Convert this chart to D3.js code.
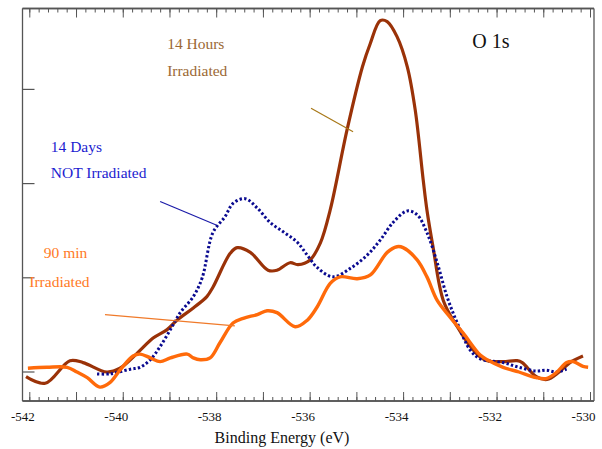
<!DOCTYPE html>
<html>
<head>
<meta charset="utf-8">
<script src="https://cdn.jsdelivr.net/npm/d3@7"></script>
<style>
  body { margin: 0; background: #fff; }
</style>
</head>
<body>
<svg id="chart" width="602" height="449"></svg>
<script>
// O 1s spectra: binding energy (eV) / intensity (arb. units, left ticks = 0..3)
var hoursEnergy = [-542.07,-541.66,-541.13,-540.85,-540.34,-540.06,-539.69,-539.35,-539.05,-538.84,-538.49,-538.20,-538.07,-537.70,-537.55,-537.27,-536.89,-536.70,-536.42,-536.25,-535.99,-535.77,-535.56,-535.20,-534.87,-534.70,-534.49,-534.34,-534.13,-533.91,-533.74,-533.57,-533.49,-533.36,-533.14,-532.84,-532.56,-532.35,-532.20,-531.86,-531.56,-531.45,-531.15,-530.92,-530.66,-530.43,-530.15];
var hoursValue  = [-0.05,-0.12,0.12,0.10,0.00,0.04,0.20,0.36,0.45,0.55,0.68,0.80,0.90,1.26,1.32,1.27,1.08,1.08,1.16,1.14,1.19,1.37,1.72,2.57,3.24,3.49,3.73,3.72,3.56,3.24,2.78,2.04,1.72,1.33,0.76,0.48,0.27,0.16,0.12,0.11,0.12,0.10,-0.05,-0.08,0.00,0.10,0.17];

var daysEnergy = [-540.55,-540.27,-539.84,-539.63,-539.41,-539.20,-538.98,-538.77,-538.49,-538.30,-538.07,-537.81,-537.64,-537.38,-537.12,-536.85,-536.57,-536.27,-536.05,-535.84,-535.50,-535.13,-534.77,-534.49,-534.21,-533.91,-533.70,-533.49,-533.27,-533.06,-532.84,-532.56,-532.35,-531.86,-531.52,-531.15,-530.94,-530.73,-530.50];
var daysValue  = [-0.02,-0.02,0.03,0.05,0.13,0.27,0.45,0.63,0.80,1.00,1.48,1.65,1.79,1.84,1.74,1.59,1.49,1.38,1.24,1.11,1.01,1.10,1.24,1.40,1.59,1.71,1.67,1.48,1.16,0.80,0.52,0.23,0.14,0.10,0.05,0.01,0.02,0.00,0.03];

var minEnergy = [-542.03,-541.62,-541.19,-540.98,-540.76,-540.49,-540.27,-540.06,-539.78,-539.63,-539.41,-539.20,-538.98,-538.62,-538.49,-538.34,-538.13,-537.92,-537.64,-537.42,-537.12,-536.91,-536.70,-536.31,-536.05,-535.84,-535.56,-535.35,-534.98,-534.70,-534.34,-534.13,-534.00,-533.70,-533.49,-533.27,-532.99,-532.71,-532.35,-532.20,-531.86,-531.52,-531.15,-530.94,-530.73,-530.50,-530.36,-530.15,-530.04];
var minValue  = [0.04,0.05,0.05,0.00,-0.06,-0.16,-0.11,0.02,0.17,0.19,0.15,0.11,0.15,0.19,0.15,0.13,0.15,0.31,0.52,0.57,0.61,0.65,0.63,0.48,0.55,0.69,0.94,1.01,0.99,1.03,1.27,1.33,1.32,1.19,1.01,0.76,0.58,0.41,0.18,0.13,0.05,0.00,-0.06,-0.07,-0.01,0.10,0.11,0.06,0.05];

var xTickLabels = [-542, -540, -538, -536, -534, -532, -530];
var yTicks = [0, 1, 2, 3];

var serif = "'Liberation Serif', 'Times New Roman', serif";
var svg = d3.select("#chart");
var frame = { left: 22.5, right: 594, top: 8.5, bottom: 401 };

var x = d3.scaleLinear().domain([-542, -530]).range([29.3, 590]);
var y = d3.scaleLinear().domain([0, 3]).range([372, 89.4]);

function zip(ex, vs) {
  return ex.map(function (e, i) { return { e: e, v: vs[i] }; });
}

// frame
var axisColor = "#555";
svg.append("line").attr("x1", frame.left).attr("x2", frame.left).attr("y1", frame.top).attr("y2", frame.bottom)
  .attr("stroke", axisColor).attr("stroke-width", 1.3);
svg.append("line").attr("x1", frame.right).attr("x2", frame.right).attr("y1", frame.top).attr("y2", frame.bottom)
  .attr("stroke", axisColor).attr("stroke-width", 1.3);

// bottom + top axes (ticks inward)
var minor = d3.range(-542, -529.99, 0.2).map(function (d) { return Math.round(d * 10) / 10; });
var major = d3.range(-542, -529, 1);

var gb = svg.append("g").attr("transform", "translate(0," + frame.bottom + ")");
gb.call(d3.axisBottom(x).tickValues(minor).tickSize(-4).tickFormat(""));
gb.append("g").call(d3.axisBottom(x).tickValues(major).tickSize(-9).tickFormat(""));
var gt = svg.append("g").attr("transform", "translate(0," + frame.top + ")");
gt.call(d3.axisTop(x).tickValues(minor).tickSize(-4).tickFormat(""));
gt.append("g").call(d3.axisTop(x).tickValues(major).tickSize(-9).tickFormat(""));

[gb, gt].forEach(function (g) {
  g.selectAll("path.domain").attr("d", "M" + frame.left + ",0H" + frame.right)
    .attr("stroke", axisColor).attr("stroke-width", 1.3);
  g.selectAll(".tick line").attr("stroke", axisColor).attr("stroke-width", 1);
});

// tick labels
svg.append("g").selectAll("text").data(xTickLabels).join("text")
  .attr("x", function (d) { return x(d) - 6.5; })
  .attr("y", 421)
  .attr("text-anchor", "middle")
  .attr("font-family", serif)
  .attr("font-size", 13)
  .attr("fill", "#111")
  .text(function (d) { return d; });

// left ticks
svg.append("g").selectAll("line").data(yTicks).join("line")
  .attr("x1", frame.left).attr("x2", frame.left + 12)
  .attr("y1", function (d) { return y(d); }).attr("y2", function (d) { return y(d); })
  .attr("stroke", axisColor).attr("stroke-width", 1.2);

svg.append("text").attr("x", 282).attr("y", 443).attr("text-anchor", "middle")
  .attr("font-family", serif)
  .attr("font-size", 16).attr("fill", "#111").text("Binding Energy (eV)");

// curves
var line = d3.line()
  .x(function (d) { return x(d.e); })
  .y(function (d) { return y(d.v); })
  .curve(d3.curveCatmullRom.alpha(0.5));

svg.append("path").datum(zip(hoursEnergy, hoursValue))
  .attr("d", line).attr("fill", "none").attr("stroke", "#9a3208").attr("stroke-width", 3.2)
  .attr("stroke-linejoin", "round");

svg.append("path").datum(zip(daysEnergy, daysValue))
  .attr("d", line).attr("fill", "none").attr("stroke", "#0a0a90").attr("stroke-width", 3)
  .attr("stroke-dasharray", "2.4,2.2");

svg.append("path").datum(zip(minEnergy, minValue))
  .attr("d", line).attr("fill", "none").attr("stroke", "#ff6a0a").attr("stroke-width", 3.4)
  .attr("stroke-linejoin", "round");

// annotations (leader lines in data units)
var leaders = [
  { from: [-535.97, 2.80], to: [-535.07, 2.55], color: "#a87818" },
  { from: [-539.20, 1.81], to: [-538.00, 1.56], color: "#1a1aa8" },
  { from: [-540.38, 0.61], to: [-537.60, 0.49], color: "#f07a2a" }
];
svg.append("g").selectAll("line").data(leaders).join("line")
  .attr("x1", function (d) { return x(d.from[0]); }).attr("y1", function (d) { return y(d.from[1]); })
  .attr("x2", function (d) { return x(d.to[0]); }).attr("y2", function (d) { return y(d.to[1]); })
  .attr("stroke", function (d) { return d.color; }).attr("stroke-width", 1.2);

var labels = [
  { text: "14 Hours", e: -539.05, v: 3.43, color: "#9b6834" },
  { text: "Irradiated", e: -539.05, v: 3.14, color: "#9b6834" },
  { text: "14 Days", e: -541.54, v: 2.34, color: "#1c1cd0" },
  { text: "NOT Irradiated", e: -541.54, v: 2.06, color: "#1c1cd0" },
  { text: "90 min", e: -541.69, v: 1.21, color: "#ff7a26" },
  { text: "Irradiated", e: -542.0, v: 0.90, color: "#ff7a26" }
];
svg.append("g").selectAll("text").data(labels).join("text")
  .attr("x", function (d) { return x(d.e); })
  .attr("y", function (d) { return y(d.v); })
  .attr("font-family", serif)
  .attr("font-size", 15.5)
  .attr("fill", function (d) { return d.color; })
  .text(function (d) { return d.text; });

svg.append("text").attr("x", x(-532.52)).attr("y", 48)
  .attr("font-family", serif)
  .attr("font-size", 20).attr("fill", "#111").text("O 1s");
</script>
</body>
</html>
